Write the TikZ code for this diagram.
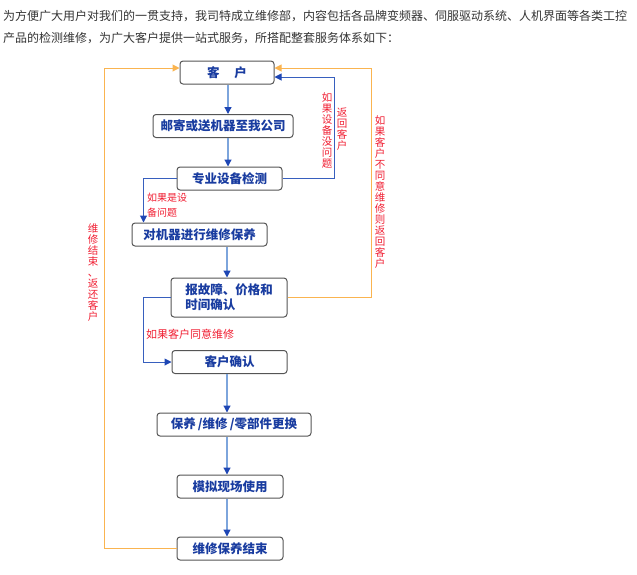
\documentclass[tikz,border=0pt]{standalone}
\usepackage{fontspec}
\setmainfont{Noto Sans CJK SC}
\usepackage{tikz}
\usetikzlibrary{arrows.meta}

\definecolor{boxtext}{RGB}{25,60,160}
\definecolor{boxline}{RGB}{85,85,85}
\definecolor{flowblue}{RGB}{125,165,220}
\definecolor{sideblue}{RGB}{55,95,190}
\definecolor{tipblue}{RGB}{30,70,180}
\definecolor{sideorange}{RGB}{250,180,80}
\definecolor{notered}{RGB}{240,30,50}
\definecolor{bodytext}{RGB}{51,51,51}

\tikzset{
  box/.style={draw=boxline, line width=1pt, rounded corners=3pt, fill=white,
    text=boxtext, font=\fontsize{12.5}{15}\selectfont\bfseries,
    minimum height=23pt, inner sep=1pt},
  flow/.style={draw=flowblue, line width=1.2pt,
    -{Triangle[length=7pt,width=7pt,color=tipblue]}},
  sideflow/.style={draw=sideblue, line width=1pt,
    -{Triangle[length=7pt,width=7pt,color=tipblue]}},
  backflow/.style={draw=sideorange, line width=1pt,
    -{Triangle[length=7pt,width=7pt]}},
  note/.style={text=notered, font=\fontsize{10}{12}\selectfont, inner sep=0pt},
  vnote/.style={text=notered, font=\fontsize{10.5}{11}\selectfont,
    align=center, inner sep=0pt},
  bodyline/.style={text=bodytext, font=\fontsize{12}{14}\selectfont,
    anchor=west, inner sep=0pt}
}

\begin{document}
\begin{tikzpicture}[x=1pt,y=-1pt]
  \useasboundingbox (0,0) rectangle (637,574);

  % intro text
  \path (3,16) node[bodyline] (intro1) {为方便广大用户对我们的一贯支持，我司特成立维修部，内容包括各品牌变频器、伺服驱动系统、人机界面等各类工控};
  \path (3,38) node[bodyline] (intro2) {产品的检测维修，为广大客户提供一站式服务，所搭配整套服务体系如下：};

  % flow boxes
  \path (227,72.5) node[box, minimum width=94pt] (kehu) {客\hspace{1.2em}户};
  \path (223,126) node[box, minimum width=140pt] (youji) {邮寄或送机器至我公司};
  \path (229.5,178.5) node[box, minimum width=105pt] (jiance) {专业设备检测};
  \path (199.5,234.5) node[box, minimum width=135pt] (weixiu) {对机器进行维修保养};
  \path (229,297.5) node[box, minimum width=116pt, minimum height=39pt,
    align=left] (baogu) {报故障、价格和\\时间确认};
  \path (229.5,362) node[box, minimum width=115pt] (queren) {客户确认};
  \path (234,424.5) node[box, minimum width=154pt] (genghuan) {保养\,/维修\,/零部件更换};
  \path (230,486.5) node[box, minimum width=106pt] (moni) {模拟现场使用};
  \path (230,548.5) node[box, minimum width=106pt] (jieshu) {维修保养结束};

  % main line
  \draw[flow] (kehu.south -| 228,0) -- (youji.north -| 228,0);
  \draw[flow] (youji.south -| 228,0) -- (jiance.north -| 228,0);
  \draw[flow] (weixiu.south -| 227,0) -- (baogu.north -| 227,0);
  \draw[flow] (queren.south -| 227,0) -- (genghuan.north -| 227,0);
  \draw[flow] (genghuan.south -| 227,0) -- (moni.north -| 227,0);
  \draw[flow] (moni.south -| 227,0) -- (jieshu.north -| 227,0);

  % side branches
  \draw[sideflow] (jiance.east) -- ++(52,0) |- ([yshift=-4.5pt]kehu.east);
  \draw[sideflow] (jiance.west) -| ([xshift=12pt]weixiu.north west);
  \draw[sideflow] (baogu.west) -- ++(-27,0) |- (queren.west);
  \draw[backflow] (baogu.east) -- ++(84,0) |- ([yshift=4.5pt]kehu.east);
  \draw[backflow] (jieshu.west) -- ++(-72,0) |- ([yshift=4.5pt]kehu.west);

  % notes
  \path (327,130) node[vnote] (nook) {如\\果\\设\\备\\没\\问\\题};
  \path (342,129) node[vnote] (back) {返\\回\\客\\户};
  \path (380,192) node[vnote] (refuse) {如\\果\\客\\户\\不\\同\\意\\维\\修\\则\\返\\回\\客\\户};
  \path (93,273) node[vnote] (done) {维\\修\\结\\束\\、\\返\\还\\客\\户};
  \path (147,198) node[note, anchor=west] (fault1) {如果是设};
  \path (147,213) node[note, anchor=west] (fault2) {备问题};
  \path (146,334) node[note, anchor=west, font=\fontsize{11}{13}\selectfont] (agree) {如果客户同意维修};

\end{tikzpicture}
\end{document}
